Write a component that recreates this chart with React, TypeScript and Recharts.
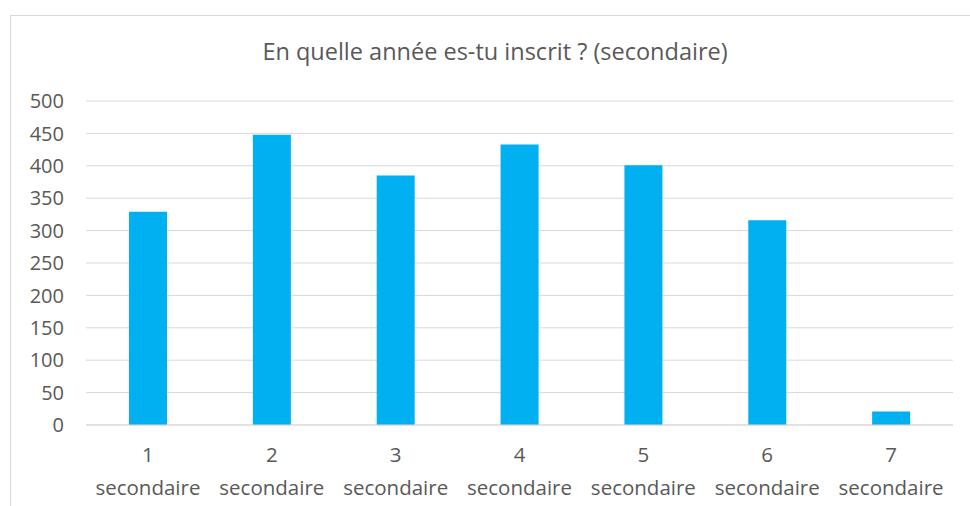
import { BarChart, Bar, XAxis, YAxis, CartesianGrid } from 'recharts';

const categories = ['1 secondaire', '2 secondaire', '3 secondaire', '4 secondaire', '5 secondaire', '6 secondaire', '7 secondaire'];
const counts = [329, 448, 385, 433, 401, 316, 21];
const yTicks = [0, 50, 100, 150, 200, 250, 300, 350, 400, 450, 500];

const data = categories.map((name, i) => ({ name, value: counts[i] }));

const FONT = '"Open Sans", sans-serif';

const CategoryTick = ({ x, y, payload }: any) => {
  const [num, ...rest] = String(payload.value).split(' ');
  return (
    <g transform={`translate(${x},${y})`}>
      <text textAnchor="middle" fill="#595959" fontSize={20.5} fontFamily={FONT}>
        <tspan x={0} y={29}>{num}</tspan>
        <tspan x={0} y={62}>{rest.join(' ')}</tspan>
      </text>
    </g>
  );
};

const App = () => {
  return (
    <div style={{ position: 'absolute', left: 0, top: 0, width: 970, height: 506, overflow: 'hidden', background: '#fff' }}>
      <div style={{ position: 'absolute', left: 10, top: 15, width: 1000, height: 600, border: '1px solid #d9d9d9' }} />
      <div style={{ position: 'absolute', left: 0, top: 35, width: 990, textAlign: 'center', fontFamily: FONT, fontSize: 23.5, color: '#595959' }}>
        En quelle année es-tu inscrit ? (secondaire)
      </div>
      <div style={{ position: 'absolute', left: 0, top: 0 }}>
        <BarChart width={970} height={506} data={data} margin={{ top: 101, right: 17, left: 26, bottom: 51 }}>
          <CartesianGrid vertical={false} stroke="#d9d9d9" strokeWidth={1} />
          <XAxis dataKey="name" tick={<CategoryTick />} tickLine={false} axisLine={{ stroke: '#d9d9d9' }} interval={0} />
          <YAxis
            width={60}
            domain={[0, 500]}
            ticks={yTicks}
            tickLine={false}
            axisLine={false}
            tickSize={0}
            tickMargin={22}
            tick={{ fill: '#595959', fontSize: 20, fontFamily: FONT }}
          />
          <Bar dataKey="value" fill="#00b0f0" barSize={38} isAnimationActive={false} />
        </BarChart>
      </div>
    </div>
  );
};

export default App;
